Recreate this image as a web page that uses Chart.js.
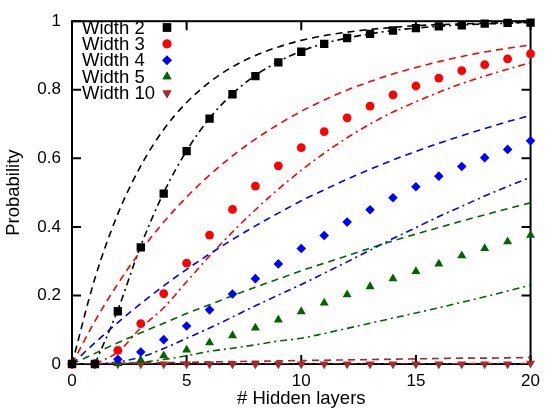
<!DOCTYPE html>
<html>
<head>
<meta charset="utf-8">
<script src="https://cdn.jsdelivr.net/npm/chart.js@4/dist/chart.umd.min.js"></script>
<style>
  html, body { margin: 0; padding: 0; background: #fff; }
  #wrap { width: 547px; height: 411px; }
</style>
</head>
<body>
<div id="wrap"><canvas id="c" width="547" height="411"></canvas></div>
<script>
// ---- data ----
const layers = [0,1,2,3,4,5,6,7,8,9,10,11,12,13,14,15,16,17,18,19,20];
const xTicks = [0,5,10,15,20];
const yTicks = [0,0.2,0.4,0.6,0.8,1];
const yTickLabels = ['0','0.2','0.4','0.6','0.8','1'];
const seriesNames = ['Width 2','Width 3','Width 4','Width 5','Width 10'];

// measured probabilities (markers)
const w2  = [0,0,0.154,0.34,0.497,0.621,0.716,0.787,0.84,0.88,0.911,0.934,0.951,0.963,0.973,0.98,0.985,0.988,0.993,0.995,0.996];
const w3  = [0,0,0.04,0.118,0.205,0.294,0.376,0.451,0.519,0.578,0.631,0.678,0.718,0.752,0.785,0.811,0.834,0.856,0.873,0.89,0.905];
const w4  = [0,0,0.014,0.035,0.071,0.111,0.158,0.204,0.249,0.292,0.337,0.375,0.414,0.45,0.485,0.517,0.548,0.576,0.602,0.626,0.651];
const w5  = [0,0,0.002,0.011,0.024,0.041,0.062,0.083,0.105,0.129,0.153,0.178,0.202,0.226,0.249,0.27,0.292,0.316,0.337,0.357,0.376];
const w10 = [0,0,0,0,0,0,0,0,0,0,0,0,0,0,0,0,0,0,0,0,0.002];

// upper bounds (dashed curves)
const up2  = [0,0.25,0.438,0.578,0.684,0.763,0.822,0.867,0.9,0.925,0.944,0.958,0.968,0.976,0.982,0.987,0.99,0.992,0.994,0.996,0.997];
const up3  = [0,0.125,0.234,0.33,0.414,0.487,0.551,0.607,0.656,0.699,0.737,0.77,0.799,0.824,0.846,0.865,0.882,0.897,0.91,0.921,0.931];
const up4  = [0,0.062,0.121,0.176,0.228,0.276,0.321,0.363,0.403,0.44,0.476,0.508,0.539,0.568,0.595,0.62,0.644,0.666,0.687,0.707,0.725];
const up5  = [0,0.031,0.062,0.091,0.119,0.147,0.173,0.199,0.224,0.248,0.272,0.294,0.316,0.338,0.359,0.379,0.398,0.417,0.435,0.453,0.47];
const up10 = [0,0.001,0.002,0.003,0.004,0.005,0.006,0.007,0.008,0.009,0.01,0.011,0.012,0.013,0.014,0.015,0.016,0.017,0.017,0.018,0.019];

// lower bounds (dash-dot curves)
const lo2  = [null,0,0.158,0.345,0.5,0.622,0.717,0.788,0.842,0.882,0.913,0.935,0.951,0.963,0.973,0.98,0.985,0.989,0.992,0.994,0.996];
const lo3  = [null,0,0.035,0.105,0.164,0.24,0.315,0.385,0.45,0.51,0.565,0.615,0.66,0.7,0.735,0.765,0.793,0.818,0.84,0.86,0.879];
const lo4  = [null,0,0.006,0.02,0.045,0.075,0.105,0.137,0.17,0.201,0.232,0.265,0.298,0.332,0.366,0.398,0.43,0.46,0.49,0.518,0.545];
const lo5  = [null,0,0.001,0.005,0.013,0.024,0.037,0.046,0.056,0.067,0.075,0.089,0.104,0.119,0.134,0.149,0.164,0.18,0.196,0.213,0.23];
const lo10 = [null,0,0,0,0,0,0,0,0,0,0,0,0,0,0,0,0,0.001,0.001,0.001,0.001];

// ---- styling ----
const colors = ['#000000','#ff0000','#0000ff','#006400','#a52a2a'];
const pointStyles = ['rect','circle','rectRot','triangle','triangle'];
const pointRot = [0,0,0,0,180];
const pointRad = [5.9,4.4,4.8,5.2,5.2];
const FONT = "'Liberation Sans', Arial, Helvetica, sans-serif";

const toXY = (ys) => layers.map((x,i) => ({x: x, y: ys[i]}));

const markerSets = [w2,w3,w4,w5,w10];
const upperSets = [up2,up3,up4,up5,up10];
const lowerSets = [lo2,lo3,lo4,lo5,lo10];

const datasets = [];
markerSets.forEach((ys,i) => {
  datasets.push({
    type: 'scatter', label: seriesNames[i], data: toXY(ys), showLine: false,
    pointStyle: pointStyles[i], rotation: pointRot[i], pointRadius: pointRad[i],
    backgroundColor: colors[i], borderColor: colors[i], borderWidth: 0,
    clip: 10, order: 0
  });
});
upperSets.forEach((ys,i) => {
  datasets.push({
    type: 'line', label: seriesNames[i] + ' upper', data: toXY(ys),
    borderColor: colors[i], borderWidth: 1.6, borderDash: [7,5],
    pointRadius: 0, fill: false, cubicInterpolationMode: 'monotone', order: 1
  });
});
lowerSets.forEach((ys,i) => {
  datasets.push({
    type: 'line', label: seriesNames[i] + ' lower', data: toXY(ys),
    borderColor: colors[i], borderWidth: 1.6, borderDash: [7,4,2,4],
    pointRadius: 0, fill: false, spanGaps: false, cubicInterpolationMode: 'monotone', order: 1
  });
});

// frame with inward ticks (drawn before datasets so markers sit on top)
const framePlugin = {
  id: 'frame',
  beforeDatasetsDraw(chart) {
    const {ctx, chartArea: a, scales} = chart;
    ctx.save();
    ctx.strokeStyle = '#000';
    ctx.lineWidth = 2;
    const tl = 9;
    ctx.beginPath();
    xTicks.forEach(v => {
      const px = scales.x.getPixelForValue(v);
      ctx.moveTo(px, a.bottom); ctx.lineTo(px, a.bottom - tl);
      ctx.moveTo(px, a.top); ctx.lineTo(px, a.top + tl);
    });
    yTicks.forEach(v => {
      const py = scales.y.getPixelForValue(v);
      ctx.moveTo(a.left, py); ctx.lineTo(a.left + tl, py);
      ctx.moveTo(a.right, py); ctx.lineTo(a.right - tl, py);
    });
    ctx.stroke();
    ctx.strokeRect(a.left, a.top, a.right - a.left, a.bottom - a.top);
    ctx.restore();
  }
};

// gnuplot-like key: text left, marker right
const keyPlugin = {
  id: 'key',
  afterDraw(chart) {
    const {ctx} = chart;
    ctx.save();
    ctx.font = '18.5px ' + FONT;
    ctx.textAlign = 'left';
    ctx.textBaseline = 'middle';
    seriesNames.forEach((name,i) => {
      const y = 28.5 + i * 16.4;
      ctx.fillStyle = '#000';
      ctx.fillText(name, 82, y);
      ctx.fillStyle = colors[i];
      ctx.strokeStyle = colors[i];
      Chart.helpers.drawPoint(ctx, {pointStyle: pointStyles[i], rotation: pointRot[i], radius: pointRad[i], borderWidth: 0}, 167, y - 1);
      ctx.fill();
    });
    ctx.restore();
  }
};

new Chart(document.getElementById('c'), {
  type: 'scatter',
  data: { datasets },
  options: {
    responsive: false,
    animation: false,
    devicePixelRatio: 1,
    layout: { padding: { top: 14, right: 13, left: 0, bottom: 0 } },
    plugins: { legend: { display: false }, tooltip: { enabled: false } },
    scales: {
      x: {
        type: 'linear', min: 0, max: 20,
        afterBuildTicks: (s) => { s.ticks = xTicks.map(v => ({value: v})); },
        ticks: { font: { family: FONT, size: 17 }, color: '#000', padding: 7, maxRotation: 0,
                 callback: (v) => String(v) },
        grid: { display: false, drawTicks: false },
        border: { display: false },
        title: { display: true, text: '# Hidden layers', color: '#000', font: { family: FONT, size: 18.5 }, padding: { top: 0, bottom: 1 } },
        afterFit: (s) => { s.height = 47; }
      },
      y: {
        type: 'linear', min: 0, max: 1,
        afterBuildTicks: (s) => { s.ticks = yTicks.map(v => ({value: v})); },
        ticks: { font: { family: FONT, size: 17 }, color: '#000', padding: 11,
                 callback: (v) => { const k = yTicks.findIndex(t => Math.abs(t - v) < 1e-9); return k >= 0 ? yTickLabels[k] : ''; } },
        grid: { display: false, drawTicks: false },
        border: { display: false },
        title: { display: true, text: 'Probability', color: '#000', font: { family: FONT, size: 18.5 }, padding: { top: 3, bottom: 0 } },
        afterFit: (s) => { s.width = 72; }
      }
    }
  },
  plugins: [framePlugin, keyPlugin]
});
</script>
</body>
</html>
